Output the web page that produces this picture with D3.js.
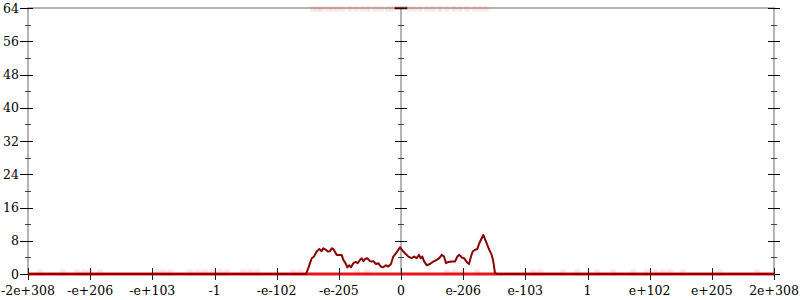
<!DOCTYPE html>
<html>
<head>
<meta charset="utf-8">
<script src="https://cdn.jsdelivr.net/npm/d3@7/dist/d3.min.js"></script>
<style>
  html, body { margin: 0; padding: 0; background: #fff; }
  svg { display: block; }
  text { font-family: "DejaVu Serif", serif; font-size: 12.5px; fill: #000; }
</style>
</head>
<body>
<svg id="chart" width="800" height="300"></svg>
<script>
// ---- data ----
const xTickLabels = ["-2e+308","-e+206","-e+103","-1","-e-102","-e-205","0","e-206","e-103","1","e+102","e+205","2e+308"];
const yTickValues = [0, 8, 16, 24, 32, 40, 48, 56, 64];
const yMinorValues = [4, 12, 20, 28, 36, 44, 52, 60];

// histogram curve: position in axis units (tick index, 0 = "0") and count
const curveX = [-6, -1.528, -1.491, -1.436, -1.399, -1.356, -1.314, -1.276, -1.250, -1.206, -1.179, -1.142, -1.115, -1.089, -1.034,
  -0.954, -0.928, -0.885, -0.864, -0.832, -0.804, -0.767, -0.729, -0.696, -0.659, -0.632, -0.606, -0.579, -0.542, -0.499,
  -0.471, -0.446, -0.402, -0.365, -0.327, -0.285, -0.246, -0.204, -0.161, -0.124, -0.080, -0.043, -0.016, 0.027, 0.064,
  0.117, 0.172, 0.209, 0.253, 0.290, 0.317, 0.343, 0.370, 0.413, 0.466, 0.520, 0.574, 0.616, 0.655, 0.692,
  0.724, 0.761, 0.816, 0.869, 0.906, 0.938, 0.976, 1.013, 1.057, 1.094, 1.126, 1.153, 1.190, 1.227, 1.259,
  1.298, 1.324, 1.351, 1.388, 1.420, 1.459, 1.485, 1.512, 1.539, 6];
const curveY = [0, 0, 1.4, 3.8, 4.2, 5.4, 6.0, 5.5, 6.2, 5.8, 5.4, 5.5, 6.2, 6.0, 4.6,
  4.6, 3.4, 2.4, 1.6, 2.1, 1.6, 2.6, 2.9, 2.6, 3.4, 3.8, 3.1, 3.6, 3.8, 3.1,
  3.0, 3.1, 2.4, 2.6, 1.8, 1.6, 2.1, 1.8, 2.4, 4.2, 5.0, 5.8, 6.4, 5.6, 5.0,
  4.2, 3.8, 4.2, 3.8, 4.6, 3.8, 4.2, 3.1, 2.1, 2.4, 3.0, 3.4, 3.8, 4.6, 4.2,
  2.6, 2.9, 3.0, 3.0, 4.2, 4.6, 4.0, 3.8, 2.9, 2.4, 4.2, 5.4, 5.8, 6.0, 7.4,
  8.6, 9.4, 8.4, 7.0, 5.8, 4.6, 3.0, 0.2, 0, 0];

// faint sample marks
const topDotsX = [-1.415, -1.335, -1.271, -1.174, -1.094, -1.013, -0.933, -0.820, -0.724, -0.627, -0.531, -0.418, -0.322, -0.209, -0.129,
  0.129, 0.209, 0.306, 0.418, 0.515, 0.627, 0.740, 0.853, 0.949, 1.062, 1.174, 1.271, 1.367];
const topDarkX = [-0.08, -0.04, 0, 0.04, 0.08];
const bottomDotsX = [-5.807, -5.437, -5.212, -5.099, -5.003, -4.842, -3.925, -3.828, -3.716, -3.394, -3.265, -3.153, -3.024, -2.911, -2.799,
  -2.541, -2.429, -2.316, -1.737, -1.625, -0.708, -0.547, 0.740, 0.869, 0.997, 1.222, 2.123, 2.236, 2.606, 2.831,
  3.153, 3.410, 3.732, 3.957, 4.086, 4.215, 4.327, 4.536, 5.131, 5.726];

// ---- layout ----
const W = 800, H = 300;
const margin = { left: 28, right: 26, top: 8, bottom: 26 };
const svg = d3.select("#chart");

const x = d3.scaleLinear().domain([-6, 6]).range([margin.left, W - margin.right]);
const y = d3.scaleLinear().domain([0, 64]).range([H - margin.bottom, margin.top]);

const gray = "#b4b4b4";
const x0 = x(-6), x1 = x(6), y0 = y(0), y1 = y(64);

// frame lines
const frame = svg.append("g");
frame.append("line").attr("x1", x0).attr("x2", x1).attr("y1", y1).attr("y2", y1).attr("stroke", gray).attr("stroke-width", 2);
[ -6, 0, 6 ].forEach(v => {
  frame.append("line").attr("x1", x(v)).attr("x2", x(v)).attr("y1", y1 - 1).attr("y2", y0).attr("stroke", gray).attr("stroke-width", 2);
});

// y ticks on left, center, right
function yTicks(xv, outMaj, inMaj, outMin, inMin) {
  const g = svg.append("g");
  const px = x(xv);
  g.selectAll(".maj").data(yTickValues).join("line")
    .attr("x1", px - outMaj).attr("x2", px + inMaj)
    .attr("y1", d => Math.round(y(d)) + 0.5).attr("y2", d => Math.round(y(d)) + 0.5)
    .attr("stroke", "#000").attr("stroke-width", 1);
  g.selectAll(".min").data(yMinorValues).join("line")
    .attr("x1", px - outMin).attr("x2", px + inMin)
    .attr("y1", d => Math.round(y(d)) + 0.5).attr("y2", d => Math.round(y(d)) + 0.5)
    .attr("stroke", "#444").attr("stroke-width", 1);
}
yTicks(-6, 8, 5, 3, 3);
yTicks(0, 6, 6, 3, 3);
yTicks(6, 6, 6, 3, 3);

// y labels
svg.append("g").selectAll("text").data(yTickValues).join("text")
  .attr("x", x0 - 9).attr("y", d => y(d)).attr("dy", "0.36em")
  .attr("text-anchor", "end").text(d => d);

// faint points
const dots = svg.append("g");
dots.selectAll(".b").data(bottomDotsX).join("circle")
  .attr("cx", d => x(d)).attr("cy", y0 - 1.5).attr("r", 3.5)
  .attr("fill", "#ff3030").attr("fill-opacity", 0.12);
dots.selectAll(".t").data(topDotsX).join("circle")
  .attr("cx", d => x(d)).attr("cy", y1 + 1).attr("r", 3)
  .attr("fill", "#ff3030").attr("fill-opacity", 0.12);
dots.selectAll(".td").data(topDarkX).join("circle")
  .attr("cx", d => x(d)).attr("cy", y1).attr("r", 1.6)
  .attr("fill", "#5a0000").attr("fill-opacity", 0.7);

// bright baseline
svg.append("line").attr("x1", x0).attr("x2", x1).attr("y1", y0).attr("y2", y0)
  .attr("stroke", "#e8141c").attr("stroke-width", 3);

// x ticks
svg.append("g").selectAll("line").data(xTickLabels).join("line")
  .attr("x1", (d, i) => Math.round(x(i - 6)) + 0.5).attr("x2", (d, i) => Math.round(x(i - 6)) + 0.5)
  .attr("y1", y0 - 6).attr("y2", y0 + 6).attr("stroke", "#222").attr("stroke-width", 1);

// x labels
svg.append("g").selectAll("text").data(xTickLabels).join("text")
  .attr("x", (d, i) => x(i - 6)).attr("y", H - 5)
  .attr("text-anchor", "middle").text(d => d);

// curve
const pts = curveX.map((v, i) => [v, curveY[i]]);
svg.append("path").datum(pts)
  .attr("fill", "none").attr("stroke", "#8b0000").attr("stroke-width", 2).attr("stroke-linejoin", "round")
  .attr("d", d3.line().x(d => x(d[0])).y(d => y(d[1])));
</script>
</body>
</html>
